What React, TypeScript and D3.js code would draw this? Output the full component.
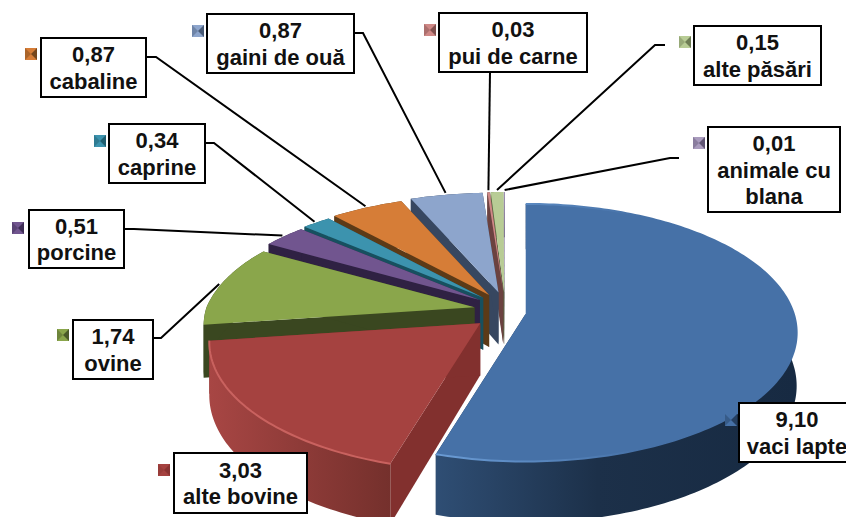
import React from "react";
import * as d3 from "d3";

// Livestock categories, clockwise from twelve o'clock
const sliceNames = ["vaci lapte", "alte bovine", "ovine", "porcine", "caprine", "cabaline", "gaini de ouă", "pui de carne", "alte păsări", "animale cu blana"];
const sliceValues = [9.1, 3.03, 1.74, 0.51, 0.34, 0.87, 0.87, 0.03, 0.15, 0.01];
const labelLines = [["vaci lapte"], ["alte bovine"], ["ovine"], ["porcine"], ["caprine"], ["cabaline"], ["gaini de ouă"], ["pui de carne"], ["alte păsări"], ["animale cu", "blana"]];

const topColours = ["#4671a7", "#a54240", "#8aa64b", "#71558f", "#3c93ae", "#d67d37", "#8da5cc", "#cf8886", "#b8cc95", "#a99bbd"];
const wallColours = ["#1d3350", "#82302e", "#3a4720", "#2f2143", "#17505f", "#5c3a17", "#374760", "#6b4240", "#5a6843", "#4c4260"];

// Callout boxes: [x, y, width, height], the elbow start of the leader, and the key square
const boxes = [
  [739, 403, 125, 59], [174, 453, 133, 60], [73, 320, 80, 59], [29, 210, 95, 58], [109, 124, 96, 59],
  [41, 38, 105, 59], [207, 14, 147, 59], [439, 13, 148, 59], [694, 26, 127, 59], [708, 127, 132, 85],
];
const leaderStarts: (number[][] | null)[] = [
  null, null,
  [[153, 338], [161, 338]], [[124, 229], [134, 229]], [[205, 143], [214, 143]],
  [[146, 57], [156, 57]], [[354, 33], [363, 33]], [[490, 72]],
  [[665, 45], [655, 45]], [[679, 158], [670, 158]],
];
const keyPositions = [[725, 414], [158, 464], [57, 329], [12, 222], [94, 135], [25, 48], [192, 25], [424, 24], [679, 36], [693, 137]];

// Perspective pie geometry
const cx = 500;
const cy = 311;
const explodeX = 26;
const explodeY = 19;
const radiusX = 268;
const radiusY = 126;
const persp = 0.147;
const depth = 52;
// Extra foreshortening of the slices leaning away from the viewer
const farSqueezeX = 0.05;
const farSqueezeY = 0.09;
const farShift = 5;

const pie = d3.pie<number>().sort(null)(sliceValues);
const line = d3.line();

const fmt = (v: number) => v.toFixed(2).replace(".", ",");

function project(i: number, origin: number[], angle: number, drop = 0): [number, number] {
  const u = Math.sin(angle);
  const v = -Math.cos(angle);
  const k = 1 / (1 - persp * v);
  const far = i === 0 ? 0 : Math.max(0, -v);
  return [
    origin[0] + radiusX * u * k * (1 - farSqueezeX * far),
    origin[1] + radiusY * v * k * (1 - farSqueezeY * far) + drop * k,
  ];
}

function sliceShape(i: number) {
  const { startAngle, endAngle } = pie[i];
  const mid = (startAngle + endAngle) / 2;
  const lean = Math.max(0, Math.cos(mid));
  const origin = [cx + explodeX * Math.sin(mid) + farShift * lean ** 3, cy - explodeY * Math.cos(mid)];
  const steps = Math.max(2, Math.ceil((endAngle - startAngle) / 0.02));
  const angles = d3.range(steps + 1).map((s) => startAngle + ((endAngle - startAngle) * s) / steps);
  const rim = angles.map((a) => project(i, origin, a));
  const rimLow = angles.map((a) => project(i, origin, a, depth));
  const low: [number, number] = [origin[0], origin[1] + depth];
  const o: [number, number] = [origin[0], origin[1]];
  return {
    mid,
    origin,
    top: line([o, ...rim])! + "Z",
    outer: line([...rim, ...[...rimLow].reverse()])! + "Z",
    startFace: line([o, rim[0], rimLow[0], low])! + "Z",
    endFace: line([o, rim[rim.length - 1], rimLow[rim.length - 1], low])! + "Z",
    rimPath: line(rim)!,
  };
}

const shapes = sliceValues.map((_, i) => sliceShape(i));
// Paint from the back of the pie towards the viewer
const paintOrder = d3.range(sliceValues.length).sort((a, b) => -Math.cos(shapes[a].mid) - -Math.cos(shapes[b].mid));

const wallFill = (i: number) => (i === 0 ? "url(#wallBlue)" : i === 1 ? "url(#wallRed)" : wallColours[i]);

function Leader({ i }: { i: number }) {
  const start = leaderStarts[i];
  if (!start) return null;
  const s = shapes[i];
  const tip = project(i, s.origin, s.mid);
  const dx = tip[0] - cx;
  const dy = tip[1] - cy;
  const len = Math.hypot(dx, dy);
  const end: [number, number] = [tip[0] + (dx / len) * 2, tip[1] + (dy / len) * 2];
  return <path d={line([...(start as [number, number][]), end])!} fill="none" stroke="#000" strokeWidth={2} />;
}

function Key({ i }: { i: number }) {
  const [x, y] = keyPositions[i];
  const s = 12;
  return (
    <g>
      <rect x={x} y={y} width={s} height={s} fill={topColours[i]} />
      <path d={`M${x},${y}L${x + s / 2},${y + s / 2}L${x},${y + s}Z`} fill={wallColours[i]} opacity={0.35} />
      <path d={`M${x + s},${y}L${x + s / 2},${y + s / 2}L${x + s},${y + s}Z`} fill={wallColours[i]} opacity={0.8} />
    </g>
  );
}

function Callout({ i }: { i: number }) {
  const [x, y, w, h] = boxes[i];
  const lines = [fmt(sliceValues[i]), ...labelLines[i]];
  const centre = i === 0 ? 797 : x + w / 2;
  const lead = 26.5;
  const first = y + h / 2 - ((lines.length - 1) * lead) / 2 + 8;
  return (
    <g>
      <rect x={x} y={y} width={w} height={h} fill="#fff" stroke="#000" strokeWidth={2} />
      {lines.map((t, j) => (
        <text key={j} x={centre} y={first + j * lead} textAnchor="middle" fontFamily="'Liberation Sans', Arial, sans-serif" fontWeight={700} fontSize={22} fill="#111">
          {t}
        </text>
      ))}
    </g>
  );
}

export default function App() {
  return (
    <svg width={846} height={517} viewBox="0 0 846 517" style={{ position: "absolute", left: 0, top: 0, display: "block", background: "#fff" }} role="img" aria-label={sliceNames.join(", ")}>
      <defs>
        <linearGradient id="wallBlue" gradientUnits="userSpaceOnUse" x1={436} x2={795} y1={0} y2={0}>
          <stop offset="0" stopColor="#2f4e74" />
          <stop offset="0.45" stopColor="#1c3049" />
          <stop offset="1" stopColor="#172a42" />
        </linearGradient>
        <linearGradient id="wallRed" gradientUnits="userSpaceOnUse" x1={208} x2={392} y1={0} y2={0}>
          <stop offset="0" stopColor="#a84644" />
          <stop offset="1" stopColor="#74302c" />
        </linearGradient>
        <linearGradient id="rimBlue" gradientUnits="userSpaceOnUse" x1={441} x2={640} y1={0} y2={0}>
          <stop offset="0" stopColor="#6a9bd4" />
          <stop offset="1" stopColor="#4671a7" />
        </linearGradient>
      </defs>
      {paintOrder.map((i) => (
        <g key={i}>
          <path d={shapes[i].startFace} fill={wallColours[i]} />
          <path d={shapes[i].endFace} fill={wallColours[i]} />
          <path d={shapes[i].outer} fill={wallFill(i)} />
          <path d={shapes[i].top} fill={topColours[i]} />
          {i === 0 && <path d={shapes[i].rimPath} fill="none" stroke="url(#rimBlue)" strokeWidth={2} />}
          {i === 1 && <path d={shapes[i].rimPath} fill="none" stroke="#c9625f" strokeWidth={2} />}
        </g>
      ))}
      {sliceValues.map((_, i) => <Leader key={i} i={i} />)}
      {sliceValues.map((_, i) => <Key key={i} i={i} />)}
      {sliceValues.map((_, i) => <Callout key={i} i={i} />)}
    </svg>
  );
}
